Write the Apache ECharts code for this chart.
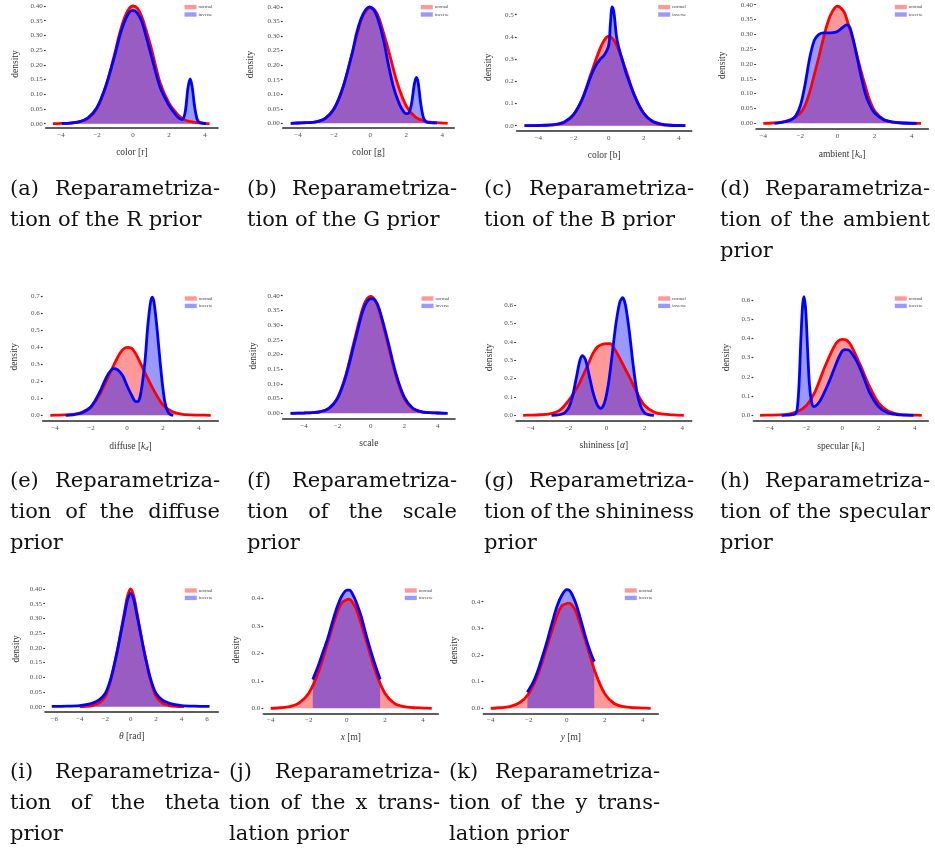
<!DOCTYPE html>
<html><head><meta charset="utf-8">
<script src="https://cdn.jsdelivr.net/npm/echarts@6/dist/echarts.min.js"></script>
<style>html,body{margin:0;padding:0;background:#fff}#c{width:935px;height:852px}</style>
</head><body><div id="c"></div>
<script>
// ---------------- data (x, density) ----------------
const seriesNames = ['normal', 'inverse'];

const rNormal = [[-4.45,0],[-4,0.001],[-3.5,0.002],[-3,0.006],[-2.5,0.018],[-2,0.052],[-1.5,0.128],[-1,0.242],[-0.75,0.305],[-0.5,0.355],[-0.25,0.388],[0,0.4],[0.25,0.392],[0.5,0.362],[1,0.26],[1.5,0.14],[2,0.07],[2.5,0.03],[2.75,0.018],[3,0.01],[3.5,0.004],[4,0.001],[4.25,0]];
const rInverse = [[-3.95,0.001],[-3.5,0.002],[-3,0.006],[-2.5,0.02],[-2,0.055],[-1.5,0.13],[-1,0.235],[-0.75,0.295],[-0.5,0.342],[-0.25,0.375],[0,0.385],[0.25,0.375],[0.5,0.345],[1,0.235],[1.5,0.125],[2,0.062],[2.25,0.04],[2.5,0.022],[2.72,0.014],[2.9,0.04],[3.05,0.12],[3.17,0.152],[3.28,0.128],[3.42,0.06],[3.56,0.016],[3.7,0.004],[4.05,0]];

const gNormal = [[-4.4,0],[-4,0.001],[-3.5,0.002],[-3,0.005],[-2.5,0.017],[-2,0.05],[-1.5,0.125],[-1,0.24],[-0.5,0.355],[-0.25,0.385],[0,0.398],[0.25,0.39],[0.5,0.36],[1,0.255],[1.5,0.14],[2,0.06],[2.5,0.022],[3,0.008],[3.5,0.003],[4,0.001],[4.3,0]];
const gInverse = [[-4.4,0],[-4,0.001],[-3.5,0.002],[-3,0.005],[-2.5,0.016],[-2,0.05],[-1.5,0.125],[-1,0.24],[-0.75,0.31],[-0.5,0.36],[-0.25,0.39],[-0.05,0.4],[0.25,0.385],[0.5,0.345],[0.75,0.285],[1,0.205],[1.25,0.135],[1.5,0.085],[1.75,0.05],[2,0.033],[2.15,0.036],[2.3,0.07],[2.45,0.135],[2.56,0.158],[2.66,0.14],[2.8,0.07],[2.95,0.02],[3.1,0.005],[3.3,0.002],[3.7,0.001]];

const bNormal = [[-4.78,0],[-4,0.001],[-3.5,0.002],[-3,0.005],[-2.5,0.016],[-2,0.048],[-1.5,0.12],[-1,0.235],[-0.5,0.345],[-0.25,0.385],[0,0.403],[0.25,0.39],[0.5,0.355],[1,0.245],[1.5,0.13],[2,0.055],[2.5,0.018],[3,0.005],[3.5,0.002],[4.36,0]];
const bInverse = [[-4.78,0],[-4,0.001],[-3.5,0.002],[-3,0.006],[-2.5,0.018],[-2,0.05],[-1.5,0.12],[-1,0.225],[-0.75,0.268],[-0.5,0.298],[-0.25,0.318],[0,0.36],[0.1,0.46],[0.2,0.535],[0.3,0.51],[0.45,0.4],[0.6,0.345],[0.8,0.29],[1,0.235],[1.5,0.13],[2,0.055],[2.5,0.02],[3,0.007],[3.5,0.002],[4.36,0]];

const ambNormal = [[-4,0],[-3.5,0.001],[-3,0.004],[-2.5,0.013],[-2,0.035],[-1.75,0.06],[-1.5,0.105],[-1.25,0.165],[-1,0.225],[-0.75,0.29],[-0.5,0.345],[-0.25,0.38],[0,0.395],[0.25,0.385],[0.4,0.37],[0.6,0.33],[0.8,0.29],[1,0.24],[1.25,0.18],[1.5,0.125],[1.75,0.075],[2,0.042],[2.5,0.012],[3,0.004],[3.5,0.001],[4.5,0]];
const ambInverse = [[-3.4,0],[-3,0.003],[-2.5,0.012],[-2.25,0.025],[-2,0.06],[-1.75,0.13],[-1.5,0.22],[-1.25,0.28],[-1,0.3],[-0.75,0.305],[-0.5,0.305],[-0.25,0.306],[0,0.31],[0.25,0.322],[0.5,0.332],[0.65,0.325],[0.8,0.295],[1,0.24],[1.25,0.165],[1.5,0.1],[1.75,0.06],[2,0.035],[2.5,0.012],[3,0.004],[3.5,0.001],[4.27,0]];

const difNormal = [[-4.26,0],[-4,0.001],[-3.5,0.002],[-3,0.006],[-2.5,0.018],[-2,0.05],[-1.5,0.125],[-1,0.235],[-0.5,0.345],[-0.25,0.385],[0,0.4],[0.25,0.395],[0.5,0.36],[1,0.25],[1.5,0.145],[2,0.06],[2.5,0.022],[3,0.007],[3.5,0.002],[4,0.001],[4.65,0]];
const difInverse = [[-3.4,0],[-3,0.003],[-2.5,0.015],[-2,0.05],[-1.5,0.14],[-1.25,0.2],[-1,0.25],[-0.75,0.275],[-0.55,0.27],[-0.25,0.235],[0,0.175],[0.25,0.12],[0.5,0.08],[0.65,0.085],[0.8,0.15],[1,0.32],[1.15,0.52],[1.3,0.66],[1.4,0.695],[1.5,0.665],[1.65,0.53],[1.8,0.36],[1.95,0.2],[2.1,0.08],[2.25,0.025],[2.4,0.005],[2.57,0]];

const sclNormal = [[-4.8,0],[-4,0.001],[-3.5,0.002],[-3,0.006],[-2.5,0.018],[-2,0.052],[-1.5,0.13],[-1,0.245],[-0.5,0.355],[-0.25,0.388],[0,0.398],[0.25,0.385],[0.5,0.35],[1,0.24],[1.5,0.128],[2,0.05],[2.5,0.016],[3,0.005],[3.5,0.002],[4,0.001],[4.5,0]];
const sclInverse = [[-4.8,0],[-4,0.001],[-3.5,0.002],[-3,0.006],[-2.5,0.017],[-2,0.05],[-1.5,0.125],[-1,0.235],[-0.5,0.345],[-0.25,0.378],[0,0.39],[0.25,0.385],[0.5,0.355],[1,0.25],[1.5,0.135],[2,0.055],[2.5,0.018],[3,0.006],[3.5,0.002],[4,0.001],[4.6,0]];

const shiNormal = [[-4.4,0],[-4,0.001],[-3.5,0.003],[-3,0.008],[-2.5,0.025],[-2,0.08],[-1.5,0.16],[-1.25,0.215],[-1,0.27],[-0.75,0.33],[-0.5,0.37],[-0.25,0.385],[0,0.39],[0.2,0.39],[0.4,0.365],[0.6,0.33],[0.8,0.29],[1,0.25],[1.25,0.2],[1.5,0.145],[1.75,0.095],[2,0.055],[2.5,0.018],[3,0.006],[3.5,0.002],[4.08,0]];
const shiInverse = [[-2.9,0],[-2.5,0.003],[-2.2,0.015],[-2,0.04],[-1.8,0.1],[-1.6,0.2],[-1.4,0.3],[-1.27,0.325],[-1.1,0.3],[-0.9,0.21],[-0.7,0.12],[-0.5,0.06],[-0.3,0.038],[-0.1,0.07],[0.1,0.17],[0.3,0.33],[0.5,0.5],[0.7,0.615],[0.85,0.64],[1,0.6],[1.2,0.46],[1.4,0.28],[1.6,0.13],[1.8,0.05],[2,0.015],[2.2,0.004],[2.5,0]];

const speNormal = [[-4.55,0],[-4,0.001],[-3.5,0.002],[-3,0.006],[-2.5,0.018],[-2,0.05],[-1.5,0.125],[-1,0.245],[-0.5,0.35],[-0.25,0.385],[0,0.395],[0.25,0.39],[0.5,0.36],[1,0.26],[1.5,0.15],[2,0.065],[2.5,0.024],[3,0.008],[3.5,0.002],[4,0.001],[4.39,0]];
const speInverse = [[-3.35,0],[-3,0.001],[-2.75,0.003],[-2.6,0.008],[-2.5,0.03],[-2.4,0.15],[-2.3,0.38],[-2.2,0.57],[-2.12,0.617],[-2.02,0.54],[-1.92,0.34],[-1.82,0.16],[-1.7,0.07],[-1.58,0.045],[-1.4,0.055],[-1.2,0.08],[-0.8,0.16],[-0.5,0.23],[-0.25,0.29],[0,0.335],[0.15,0.342],[0.35,0.34],[0.5,0.325],[0.75,0.29],[1,0.24],[1.25,0.18],[1.5,0.12],[2,0.045],[2.5,0.014],[3,0.004],[3.5,0.001],[3.93,0]];

const thNormal = [[-4,0],[-3.5,0.001],[-3,0.004],[-2.5,0.012],[-2,0.035],[-1.75,0.063],[-1.5,0.1],[-1.25,0.148],[-1,0.2],[-0.75,0.26],[-0.5,0.318],[-0.25,0.375],[0,0.4],[0.25,0.375],[0.5,0.318],[0.75,0.26],[1,0.2],[1.25,0.148],[1.5,0.1],[1.75,0.063],[2,0.035],[2.5,0.012],[3,0.004],[3.5,0.001],[4.2,0]];
const thInverse = [[-6.2,0.001],[-5,0.002],[-4,0.004],[-3.5,0.007],[-3,0.012],[-2.5,0.022],[-2,0.045],[-1.75,0.07],[-1.5,0.105],[-1.25,0.15],[-1,0.2],[-0.75,0.255],[-0.5,0.31],[-0.25,0.362],[0,0.385],[0.25,0.362],[0.5,0.31],[0.75,0.255],[1,0.2],[1.25,0.15],[1.5,0.105],[1.75,0.07],[2,0.045],[2.5,0.022],[3,0.012],[3.5,0.007],[4,0.004],[5,0.002],[6.2,0.001]];

const txNormal = [[-4,0],[-3.5,0.002],[-3,0.006],[-2.5,0.02],[-2,0.055],[-1.5,0.13],[-1,0.24],[-0.5,0.35],[-0.25,0.385],[0,0.395],[0.1,0.397],[0.25,0.39],[0.5,0.36],[1,0.25],[1.5,0.135],[2,0.055],[2.5,0.018],[3,0.006],[3.5,0.002],[4,0.001],[4.46,0]];
const txInverse = [[-1.79,0.105],[-1.5,0.155],[-1.25,0.205],[-1,0.255],[-0.75,0.315],[-0.5,0.37],[-0.25,0.41],[0,0.43],[0.15,0.43],[0.3,0.415],[0.5,0.385],[0.75,0.335],[1,0.27],[1.25,0.21],[1.5,0.155],[1.75,0.105]];

const tyNormal = [[-4,0],[-3.5,0.002],[-3,0.006],[-2.5,0.02],[-2,0.055],[-1.5,0.13],[-1,0.24],[-0.5,0.35],[-0.25,0.385],[0,0.393],[0.1,0.395],[0.25,0.39],[0.5,0.36],[1,0.25],[1.5,0.135],[2,0.055],[2.5,0.018],[3,0.006],[3.5,0.002],[4,0.001],[4.42,0]];
const tyInverse = [[-2.07,0.06],[-1.75,0.1],[-1.5,0.145],[-1.25,0.2],[-1,0.26],[-0.75,0.325],[-0.5,0.385],[-0.25,0.425],[0,0.445],[0.15,0.442],[0.3,0.425],[0.5,0.39],[0.75,0.33],[1,0.265],[1.25,0.21],[1.45,0.175]];

// tick values
const xTicks4 = [-4, -2, 0, 2, 4];
const xTicks6 = [-6, -4, -2, 0, 2, 4, 6];
const yTicks040 = [0, 0.05, 0.10, 0.15, 0.20, 0.25, 0.30, 0.35, 0.40];
const yTicks04 = [0, 0.1, 0.2, 0.3, 0.4];
const yTicks05 = [0, 0.1, 0.2, 0.3, 0.4, 0.5];
const yTicks06 = [0, 0.1, 0.2, 0.3, 0.4, 0.5, 0.6];
const yTicks07 = [0, 0.1, 0.2, 0.3, 0.4, 0.5, 0.6, 0.7];

// axis titles (rich text)
const xTitles = ['color [r]', 'color [g]', 'color [b]', 'ambient [{i|k}{s|a}]', 'diffuse [{i|k}{s|d}]', 'scale',
  'shininess [{i|α}]', 'specular [{i|k}{s|s}]', '{i|θ} [rad]', '{i|x} [m]', '{i|y} [m]'];
const yTitle = 'density';

// captions
const captionLines = [
  ['(a) Reparametriza-', 'tion of the R prior'],
  ['(b) Reparametriza-', 'tion of the G prior'],
  ['(c) Reparametriza-', 'tion of the B prior'],
  ['(d) Reparametriza-', 'tion of the ambient', 'prior'],
  ['(e) Reparametriza-', 'tion of the diffuse', 'prior'],
  ['(f) Reparametriza-', 'tion of the scale', 'prior'],
  ['(g) Reparametriza-', 'tion of the shininess', 'prior'],
  ['(h) Reparametriza-', 'tion of the specular', 'prior'],
  ['(i) Reparametriza-', 'tion of the theta', 'prior'],
  ['(j) Reparametriza-', 'tion of the x trans-', 'lation prior'],
  ['(k) Reparametriza-', 'tion of the y trans-', 'lation prior']
];

// ---------------- layout (pixels) ----------------
const panels = [
  {n:rNormal, v:rInverse, xa:[-4,61], xb:[4,205], axL:45.7, axR:218, y0:123.7, yr:[0.4,6], axY:128, yTop:0.42, yt:yTicks040, dec:2, xt:xTicks4, gapY:25.5, legTop:4.6},
  {n:gNormal, v:gInverse, xa:[-4,298], xb:[4,442.3], axL:282.7, axR:454.3, y0:123.3, yr:[0.4,7], axY:128, yTop:0.42, yt:yTicks040, dec:2, xt:xTicks4, gapY:27.5, legTop:4.6},
  {n:bNormal, v:bInverse, xa:[-4,538.3], xb:[4,679], axL:516.7, axR:691.7, y0:125.7, yr:[0.5,14.7], axY:131, yTop:0.55, yt:yTicks05, dec:1, xt:xTicks4, gapY:23.5, legTop:4.6},
  {n:ambNormal, v:ambInverse, xa:[-4,763.3], xb:[4,911.7], axL:756, axR:928.3, y0:123.3, yr:[0.4,4.7], axY:128.7, yTop:0.41, yt:yTicks040, dec:2, xt:xTicks4, gapY:28.5, legTop:4.6},
  {n:difNormal, v:difInverse, xa:[-4,55], xb:[4,199], axL:42.7, axR:218.3, y0:415.3, yr:[0.7,296.3], axY:420.7, yTop:0.72, yt:yTicks07, dec:1, xt:xTicks4, gapY:23, legTop:296},
  {n:sclNormal, v:sclInverse, xa:[-4,304], xb:[4,437.7], axL:282.7, axR:455, y0:413.3, yr:[0.4,295.7], axY:419, yTop:0.41, yt:yTicks040, dec:2, xt:xTicks4, gapY:24.5, legTop:296},
  {n:shiNormal, v:shiInverse, xa:[-4,530.7], xb:[4,682.3], axL:516, axR:691.7, y0:415.3, yr:[0.6,305], axY:421, yTop:0.66, yt:yTicks06, dec:1, xt:xTicks4, gapY:21.5, legTop:296},
  {n:speNormal, v:speInverse, xa:[-4,770], xb:[4,914.7], axL:753.3, axR:928.3, y0:415.3, yr:[0.6,300], axY:420.7, yTop:0.63, yt:yTicks06, dec:1, xt:xTicks4, gapY:22, legTop:296},
  {n:thNormal, v:thInverse, xa:[-6,54.3], xb:[6,207], axL:45, axR:218.3, y0:706.7, yr:[0.4,589], axY:711.7, yTop:0.41, yt:yTicks040, dec:2, xt:xTicks6, gapY:23.5, legTop:588},
  {n:txNormal, v:txInverse, xa:[-4,270.7], xb:[4,423], axL:263.3, axR:438.3, y0:708.3, yr:[0.4,598.3], axY:713.3, yTop:0.445, yt:yTicks04, dec:1, xt:xTicks4, gapY:22, legTop:588},
  {n:tyNormal, v:tyInverse, xa:[-4,490.7], xb:[4,642.7], axL:483.3, axR:658.3, y0:708.3, yr:[0.4,601.7], axY:713.3, yTop:0.455, yt:yTicks04, dec:1, xt:xTicks4, gapY:23.5, legTop:588}
];
const capCols = [[10,220],[247,457],[484,694],[720,930],[10,220],[247,457],[484,694],[720,930],[10,220],[229,440],[449,660]];
const capRows = [0,0,0,0,1,1,1,1,2,2,2];
const capRowY = [190, 482, 773];
const capLineGap = 31;

// ---------------- build option ----------------
const SERIF = '"Liberation Serif", "DejaVu Serif", serif';
const RED = '#ff0000', BLUE = '#0000ff';
const REDF = 'rgba(255,0,0,0.4)', BLUEF = 'rgba(0,0,255,0.4)';
const fmtX = v => (v < 0 ? '\u2212' + Math.abs(v) : String(v));

const grids = [], xAxes = [], yAxes = [], series = [], legends = [], graphics = [];
panels.forEach((p, i) => {
  const sx = (p.xb[1] - p.xa[1]) / (p.xb[0] - p.xa[0]);
  const xMin = p.xa[0] + (p.axL - p.xa[1]) / sx;
  const xMax = p.xa[0] + (p.axR - p.xa[1]) / sx;
  const sy = (p.y0 - p.yr[1]) / p.yr[0];
  const yMin = -(p.axY - p.y0) / sy;
  const topPx = p.y0 - p.yTop * sy;
  grids.push({left: p.axL, top: topPx, width: p.axR - p.axL, height: p.axY - topPx, containLabel: false});
  xAxes.push({
    type: 'value', gridIndex: i, min: xMin, max: xMax,
    axisLine: {show: true, onZero: false, lineStyle: {color: '#2a2a2a', width: 1.5}},
    axisTick: {show: false, customValues: p.xt},
    axisLabel: {customValues: p.xt, formatter: fmtX, fontFamily: SERIF, fontSize: 7, color: '#4d4d4d', margin: 3.5},
    splitLine: {show: false},
    name: xTitles[i], nameLocation: 'middle', nameGap: 19.5,
    nameTextStyle: {fontFamily: SERIF, fontSize: 9.5, color: '#333',
      rich: {i: {fontFamily: SERIF, fontSize: 9.5, fontStyle: 'italic', color: '#333'},
             s: {fontFamily: SERIF, fontSize: 6.5, fontStyle: 'italic', color: '#333', verticalAlign: 'bottom', padding: [5, 0, 0, 0]}}}
  });
  yAxes.push({
    type: 'value', gridIndex: i, min: yMin, max: p.yTop,
    axisLine: {show: false, onZero: false},
    axisTick: {show: true, customValues: p.yt, length: 1.8, lineStyle: {color: '#333', width: 1.2}},
    axisLabel: {customValues: p.yt, formatter: v => v.toFixed(p.dec), fontFamily: SERIF, fontSize: 7, color: '#4d4d4d', margin: 3},
    splitLine: {show: false},
    name: yTitle, nameLocation: 'middle', nameGap: p.gapY,
    nameTextStyle: {fontFamily: SERIF, fontSize: 9.5, color: '#333'}
  });
  series.push({
    type: 'line', name: seriesNames[0], xAxisIndex: i, yAxisIndex: i, data: p.n,
    smooth: 0.3, showSymbol: false, clip: false, silent: true,
    lineStyle: {color: RED, width: 2.8}, itemStyle: {color: RED}, areaStyle: {color: REDF, opacity: 1}
  });
  series.push({
    type: 'line', name: seriesNames[1], xAxisIndex: i, yAxisIndex: i, data: p.v,
    smooth: 0.3, showSymbol: false, clip: false, silent: true,
    lineStyle: {color: BLUE, width: 2.8}, itemStyle: {color: BLUE}, areaStyle: {color: BLUEF, opacity: 1}
  });
  legends.push({
    orient: 'vertical', left: p.axR - 33.5, top: p.legTop, padding: 0,
    itemWidth: 12, itemHeight: 4.4, itemGap: 2.4, selectedMode: false,
    textStyle: {fontFamily: SERIF, fontSize: 4.8, color: '#444', padding: [0, 0, 0, -3]},
    data: [
      {name: seriesNames[0], icon: 'rect', itemStyle: {color: REDF, borderWidth: 0}},
      {name: seriesNames[1], icon: 'rect', itemStyle: {color: BLUEF, borderWidth: 0}}
    ]
  });
});

// captions: justified lines (all but the last of each caption)
const CAPFAMILY = '"DejaVu Serif", serif';
const CAPSIZE = 21;
const mctx = document.createElement('canvas').getContext('2d');
mctx.font = CAPSIZE + 'px ' + CAPFAMILY;
captionLines.forEach((lines, ci) => {
  const [L, R] = capCols[ci];
  lines.forEach((line, li) => {
    const y = capRowY[capRows[ci]] + li * capLineGap;
    const last = li === lines.length - 1;
    const words = line.split(' ');
    if (last || words.length < 2) {
      graphics.push({type: 'text', x: L, y: y, silent: true,
        style: {text: line, fontFamily: CAPFAMILY, fontSize: CAPSIZE, fill: '#111', align: 'left', verticalAlign: 'middle'}});
    } else {
      const ws = words.map(w => mctx.measureText(w).width);
      const total = ws.reduce((a, b) => a + b, 0);
      const gap = (R - L - total) / (words.length - 1);
      let x = L;
      words.forEach((w, wi) => {
        graphics.push({type: 'text', x: x, y: y, silent: true,
          style: {text: w, fontFamily: CAPFAMILY, fontSize: CAPSIZE, fill: '#111', align: 'left', verticalAlign: 'middle'}});
        x += ws[wi] + gap;
      });
    }
  });
});

const chart = echarts.init(document.getElementById('c'), null, {renderer: 'canvas', width: 935, height: 852});
chart.setOption({
  backgroundColor: '#ffffff',
  animation: false,
  grid: grids, xAxis: xAxes, yAxis: yAxes, series: series, legend: legends,
  graphic: graphics
});
</script>
</body></html>
